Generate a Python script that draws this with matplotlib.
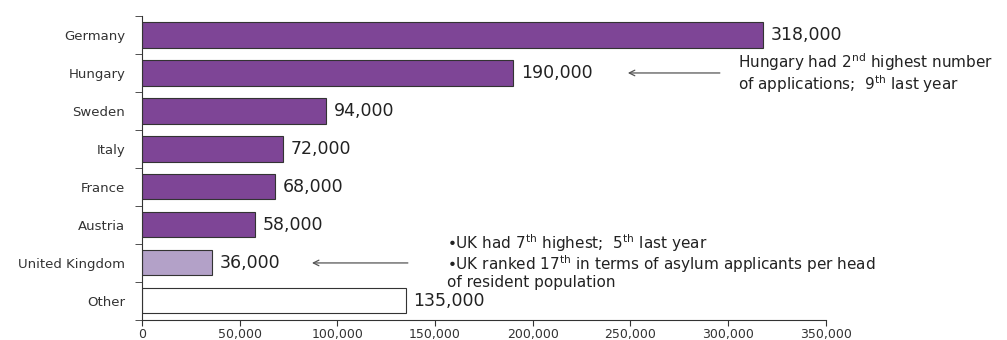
import matplotlib.pyplot as plt
import numpy as np

plt.rcParams['font.family'] = ['DejaVu Sans']
plt.rcParams['mathtext.fontset'] = 'dejavusans'

countries = ["Germany", "Hungary", "Sweden", "Italy", "France", "Austria",
             "United Kingdom", "Other"]
applications = [318000, 190000, 94000, 72000, 68000, 58000, 36000, 135000]
colors = ["#7e4596"] * 6 + ["#b3a1c8", "#ffffff"]
xticks = np.arange(0, 350001, 50000)

fig = plt.figure(figsize=(10.07, 3.40), dpi=100)
ax = fig.add_axes([0.141, 0.059, 0.679, 0.894])

y = np.arange(len(countries))
ax.barh(y, applications, height=0.66, color=colors, edgecolor="#333333", linewidth=0.8)

for yi, v in zip(y, applications):
    ax.text(v + 4000, yi, f"{v:,}", va="center", ha="left", fontsize=12.5, color="#222222")

ax.set_xlim(0, 350000)
ax.set_ylim(len(countries) - 0.5, -0.5)
ax.set_xticks(xticks)
ax.set_xticklabels([f"{t:,}" for t in xticks], fontsize=9, color="#333333")
ax.set_yticks(y)
ax.set_yticklabels(countries, fontsize=9.5, color="#333333")
ax.tick_params(axis="y", which="major", length=0, pad=12)
ax.set_yticks(np.arange(-0.5, len(countries)), minor=True)
ax.tick_params(axis="y", which="minor", length=5, direction="out", color="#333333")
ax.tick_params(axis="x", length=4, direction="out", color="#333333", pad=2)
for s in ["top", "right"]:
    ax.spines[s].set_visible(False)
for s in ["left", "bottom"]:
    ax.spines[s].set_color("#333333")

arrow = dict(arrowstyle="->", color="#555555", lw=0.9, shrinkA=0, shrinkB=0)
ax.annotate("", xy=(248700, 1), xytext=(295800, 1), arrowprops=arrow)
ax.text(305000, 1, "Hungary had 2$^{\\rm nd}$ highest number\nof applications;  9$^{\\rm th}$ last year",
        va="center", ha="left", fontsize=11, color="#222222", linespacing=1.0, clip_on=False)

ax.annotate("", xy=(87000, 6), xytext=(136100, 6), arrowprops=arrow)
ax.text(156000, 5.47, "\u2022UK had 7$^{\\rm th}$ highest;  5$^{\\rm th}$ last year",
        va="center", ha="left", fontsize=11, color="#222222", clip_on=False)
ax.text(156000, 6.23, "\u2022UK ranked 17$^{\\rm th}$ in terms of asylum applicants per head\nof resident population",
        va="center", ha="left", fontsize=11, color="#222222", linespacing=1.0, clip_on=False)

fig.savefig("out.png", dpi=100)
